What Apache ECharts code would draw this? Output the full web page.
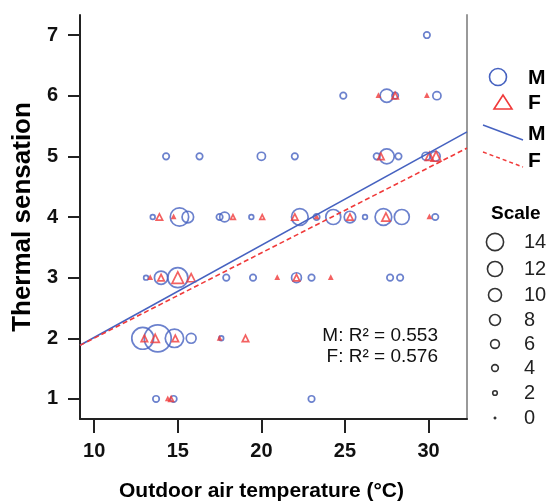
<!DOCTYPE html>
<html>
<head>
<meta charset="utf-8">
<script src="https://cdn.jsdelivr.net/npm/echarts@6/dist/echarts.min.js"></script>
<style>
  html, body { margin: 0; padding: 0; background: #fff; }
  #chart { width: 547px; height: 503px; }
</style>
</head>
<body>
<div id="chart"></div>
<script>
// Male observations: outdoor temperature, thermal sensation vote, weight (count)
const maleTemp = [29.9, 24.9, 27.5, 28.0, 30.5, 14.3, 16.3, 20.0, 22.0, 26.9, 27.5, 28.2, 29.85, 30.4,
  13.5, 15.1, 15.6, 17.5, 17.8, 19.4, 22.3, 23.3, 24.3, 25.3, 26.2, 27.3, 28.4, 30.4,
  13.1, 14.0, 15.0, 17.9, 19.5, 22.1, 23.0, 27.7, 28.3,
  12.9, 13.8, 14.8, 15.8, 17.6,
  13.7, 14.75, 23.0];
const maleVote = [7, 6, 6, 6, 6, 5, 5, 5, 5, 5, 5, 5, 5, 5,
  4, 4, 4, 4, 4, 4, 4, 4, 4, 4, 4, 4, 4, 4,
  3, 3, 3, 3, 3, 3, 3, 3, 3,
  2, 2, 2, 2, 2,
  1, 1, 1];
const maleWeight = [2, 2, 6, 2, 3, 2, 2, 3, 2, 2, 7, 2, 3, 4,
  1, 9, 5, 2, 4, 1, 8, 2, 7, 5, 1, 8, 7, 2,
  1, 6, 10, 2, 2, 4, 2, 2, 2,
  11, 14, 9, 4, 1,
  2, 2, 2];

// Female observations
const femaleTemp = [27.0, 28.0, 29.9, 27.15, 30.05, 30.45,
  13.9, 14.75, 18.3, 20.05, 22.0, 23.3, 25.3, 27.45, 30.05,
  13.35, 14.0, 15.0, 15.8, 20.95, 22.1, 24.15,
  13.0, 13.65, 14.85, 17.5, 19.05,
  14.4, 14.6];
const femaleVote = [6, 6, 6, 5, 5, 5,
  4, 4, 4, 4, 4, 4, 4, 4, 4,
  3, 3, 3, 3, 3, 3, 3,
  2, 2, 2, 2, 2,
  1, 1];
const femaleWeight = [0, 2, 0, 2, 3, 4,
  2, 0, 1, 1, 2, 0, 2, 3, 0,
  0, 2, 5, 3, 0, 2, 0,
  2, 3, 2, 0, 2,
  0, 1];

// Linear fits: [intercept, slope]
const fitMale = [0.494, 0.152];
const fitFemale = [0.598, 0.1405];
const fitLabels = ['M: R\u00b2 = 0.553', 'F: R\u00b2 = 0.576'];

// Axis ranges and ticks
const xRange = [9.15, 32.3];
const yRange = [0.67, 7.33];
const xTicks = [10, 15, 20, 25, 30];
const yTicks = [1, 2, 3, 4, 5, 6, 7];
const scaleSteps = [14, 12, 10, 8, 6, 4, 2, 0];

const BLUE = '#4662c0';
const RED = '#f03a3a';
const FONT = '"Liberation Sans", Arial, sans-serif';
const NARROW = '"Liberation Sans Narrow", "Liberation Sans", Arial, sans-serif';

const markSize = w => 3 + 1.71 * w;
const legendSize = w => 2.5 + 1.05 * w;

const zip = (xs, ys, ws) => xs.map((x, i) => [x, ys[i], ws[i]]);
const fitLine = f => xRange.map(x => [x, f[0] + f[1] * x]);

const chart = echarts.init(document.getElementById('chart'), null, { renderer: 'canvas' });

const grid = { left: 80, right: 80, top: 15, bottom: 84, outerBoundsMode: 'none', containLabel: false };

// Legend graphics on the right
const legendItems = [];
legendItems.push({ type: 'circle', shape: { cx: 498, cy: 77, r: 8.5 }, style: { fill: 'none', stroke: BLUE, lineWidth: 1.6 } });
legendItems.push({ type: 'polygon', shape: { points: [[503, 95], [494, 109], [512, 109]] }, style: { fill: 'none', stroke: RED, lineWidth: 1.6 } });
legendItems.push({ type: 'line', shape: { x1: 483, y1: 125, x2: 523, y2: 140 }, style: { stroke: BLUE, lineWidth: 1.5 } });
legendItems.push({ type: 'line', shape: { x1: 483, y1: 152, x2: 523, y2: 167 }, style: { stroke: RED, lineWidth: 1.5, lineDash: [4, 3] } });
[['M', 78], ['F', 103], ['M', 134], ['F', 161]].forEach(([t, y]) => {
  legendItems.push({ type: 'text', style: { text: t, x: 528, y: y, font: 'bold 21px ' + FONT, fill: '#000', textVerticalAlign: 'middle' } });
});
legendItems.push({ type: 'text', style: { text: 'Scale', x: 491, y: 214, font: 'bold 19px ' + FONT, fill: '#000', textVerticalAlign: 'middle' } });
const scaleY = [242, 269, 295, 320, 344, 368, 393, 418];
scaleSteps.forEach((w, i) => {
  const r = legendSize(w) / 2;
  legendItems.push({ type: 'circle', shape: { cx: 495, cy: scaleY[i], r: r },
    style: w === 0 ? { fill: '#333', stroke: '#333', lineWidth: 0.5 } : { fill: 'none', stroke: '#333', lineWidth: 1.6 } });
  legendItems.push({ type: 'text', style: { text: String(w), x: 524, y: scaleY[i], font: '20px ' + NARROW, fill: '#222', textVerticalAlign: 'middle' } });
});
fitLabels.forEach((t, i) => {
  legendItems.push({ type: 'text', style: { text: t, x: 438, y: 336 + i * 21, font: '19px ' + FONT, fill: '#111', textAlign: 'right', textVerticalAlign: 'middle' } });
});

const option = {
  animation: false,
  backgroundColor: '#fff',
  grid: grid,
  xAxis: {
    type: 'value', min: xRange[0], max: xRange[1],
    name: 'Outdoor air temperature (\u00b0C)', nameLocation: 'middle', nameGap: 62,
    nameTextStyle: { fontFamily: FONT, fontWeight: 'bold', fontSize: 21, color: '#000', padding: [0, 24, 0, 0] },
    axisLine: { show: true, onZero: false, lineStyle: { color: '#222', width: 2 } },
    axisTick: { show: true, length: 14, customValues: xTicks, lineStyle: { color: '#222', width: 2 } },
    axisLabel: { customValues: xTicks, margin: 22, fontFamily: FONT, fontWeight: 'bold', fontSize: 20, color: '#111' },
    splitLine: { show: false }
  },
  yAxis: [{
    type: 'value', min: yRange[0], max: yRange[1],
    name: 'Thermal sensation', nameLocation: 'middle', nameGap: 42,
    nameTextStyle: { fontFamily: FONT, fontWeight: 'bold', fontSize: 26, color: '#000' },
    axisLine: { show: true, onZero: false, lineStyle: { color: '#222', width: 2 } },
    axisTick: { show: true, length: 12, customValues: yTicks, lineStyle: { color: '#222', width: 2 } },
    axisLabel: { customValues: yTicks, margin: 22, fontFamily: FONT, fontWeight: 'bold', fontSize: 20, color: '#111' },
    splitLine: { show: false }
  }, {
    type: 'value', min: yRange[0], max: yRange[1], position: 'right',
    axisLine: { show: true, onZero: false, lineStyle: { color: '#999', width: 2 } },
    axisTick: { show: false }, axisLabel: { show: false }, splitLine: { show: false }
  }],
  series: [
    {
      type: 'scatter', name: 'M', data: zip(maleTemp, maleVote, maleWeight),
      symbol: 'circle', symbolSize: v => markSize(v[2]),
      itemStyle: { color: 'rgba(255,255,255,0)', borderColor: BLUE, borderWidth: 1.7 },
      z: 2
    },
    {
      type: 'scatter', name: 'F', data: zip(femaleTemp, femaleVote, femaleWeight),
      symbol: 'triangle', symbolSize: v => markSize(v[2]),
      itemStyle: { color: 'rgba(255,255,255,0)', borderColor: RED, borderWidth: 1.7 },
      z: 3
    },
    {
      type: 'line', name: 'M fit', data: fitLine(fitMale), showSymbol: false, symbol: 'none',
      lineStyle: { color: BLUE, width: 1.6 }, z: 4
    },
    {
      type: 'line', name: 'F fit', data: fitLine(fitFemale), showSymbol: false, symbol: 'none',
      lineStyle: { color: RED, width: 1.6, type: [5, 3] }, z: 4
    }
  ],
  graphic: legendItems
};

chart.setOption(option);
</script>
</body>
</html>
